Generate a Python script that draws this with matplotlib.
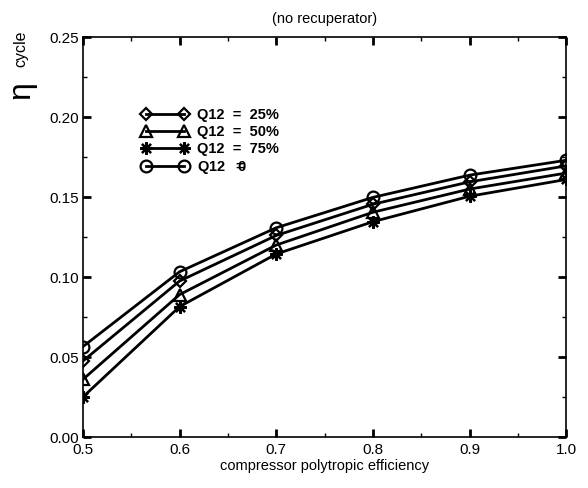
import matplotlib
matplotlib.use("Agg")
import matplotlib.pyplot as plt
from matplotlib.ticker import MultipleLocator, FormatStrFormatter

plt.rcParams['font.family'] = ['Liberation Sans', 'DejaVu Sans']
plt.rcParams['mathtext.fontset'] = 'custom'
plt.rcParams['mathtext.rm'] = 'Liberation Sans:bold'
plt.rcParams['mathtext.it'] = 'Liberation Sans:bold'
plt.rcParams['mathtext.bf'] = 'Liberation Sans:bold'

efficiency = [0.5, 0.6, 0.7, 0.8, 0.9, 1.0]
eta_q25 = [0.0475, 0.0975, 0.126, 0.1455, 0.1595, 0.1695]
eta_q50 = [0.036, 0.089, 0.120, 0.1405, 0.155, 0.165]
eta_q75 = [0.025, 0.0815, 0.1144, 0.1346, 0.1505, 0.161]
eta_q0 = [0.0565, 0.1033, 0.1308, 0.1498, 0.1637, 0.173]
labels = ["Q12  =  25%", "Q12  =  50%", "Q12  =  75%", r"Q12  $=\!\!\!\!0$"]

fig = plt.figure(figsize=(5.88, 4.88), dpi=100)
ax = fig.add_axes([0.141, 0.1045, 0.822, 0.8195])

series = [eta_q25, eta_q50, eta_q75, eta_q0]
markers = ['D', '^', (8, 2, 0), 'o']
msizes = [6.5, 8, 9, 8.5]
for vals, m, ms, lab in zip(series, markers, msizes, labels):
    ax.plot(efficiency, vals, color='black', lw=2, marker=m, ms=ms,
            mfc='none', mec='black', mew=1.6, label=lab)

ax.set_xlim(0.5, 1.0)
ax.set_ylim(0.0, 0.25)
ax.xaxis.set_major_locator(MultipleLocator(0.1))
ax.xaxis.set_minor_locator(MultipleLocator(0.05))
ax.yaxis.set_major_locator(MultipleLocator(0.05))
ax.yaxis.set_minor_locator(MultipleLocator(0.025))
ax.xaxis.set_major_formatter(FormatStrFormatter('%.1f'))
ax.yaxis.set_major_formatter(FormatStrFormatter('%.2f'))
ax.tick_params(which='both', direction='in', top=True, right=True,
               labelsize=11, colors='black')
ax.tick_params(which='major', length=6, width=2)
ax.tick_params(which='minor', length=3, width=1)
ax.tick_params(axis='x', pad=4)
ax.tick_params(axis='y', pad=3)
for s in ax.spines.values():
    s.set_linewidth(1.2)

ax.set_xlabel("compressor polytropic efficiency", fontsize=10.5, labelpad=2)
ax.set_title("(no recuperator)", fontsize=10.5, pad=10)
fig.text(0.0365, 0.8156, "\u03b7", rotation=90, ha='center', va='center',
         fontsize=23)
fig.text(0.036, 0.8996, "cycle", rotation=90, ha='center', va='center',
         fontsize=11.5)

leg = ax.legend(loc='upper left', bbox_to_anchor=(0.095, 0.855), frameon=False,
                numpoints=2, handlelength=3.2, handletextpad=0.55,
                labelspacing=0.2, prop={'weight': 'bold', 'size': 10.5})

fig.savefig("out.png", dpi=100)
